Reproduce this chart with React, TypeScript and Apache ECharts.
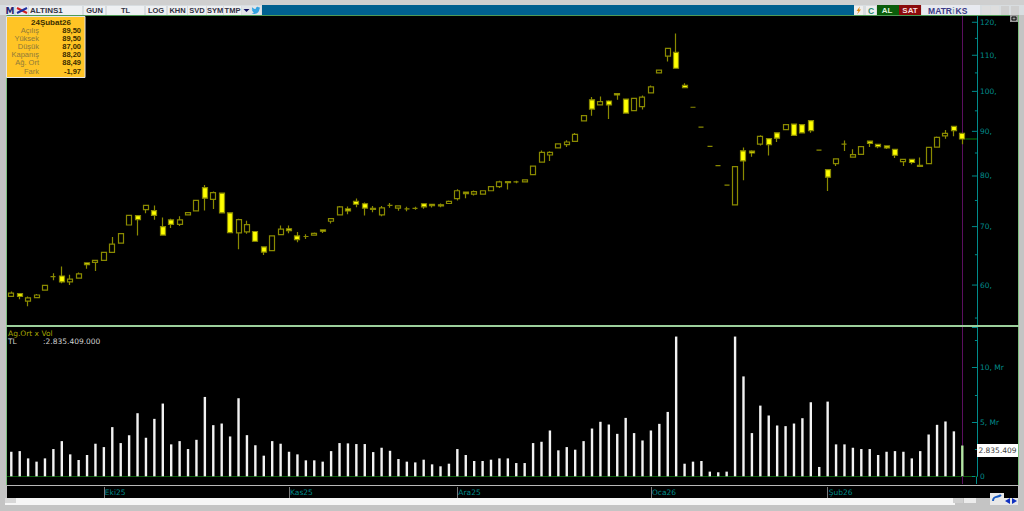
import React, { useEffect, useRef } from "react";
import * as echarts from "echarts";

// [open, close, low, high]
const candles: number[][] = [
  [58.25,58.75,58.2,59.0],[58.65,58.25,57.8,58.65],[57.5,58.0,56.75,58.2],[58.05,58.45,58.0,58.6],
  [59.2,59.95,59.15,60],[61.35,61.35,60.75,61.9],[61.45,60.5,60.3,63.0],[60.5,60.95,60,61.65],
  [61.1,61.8,61,62],[63.6,63.3,62.65,63.65],[63.7,64.05,62.25,64.1],[64.05,65.4,64.05,65.4],
  [65.4,66.85,65.4,68.1],[67,68.7,67,68.7],[70.3,72.1,70.3,72.1],[72.05,71.3,68.4,72.1],
  [73.2,74.05,72.5,74.05],[73,72.1,71.3,74],[70,68.45,68.45,71.7],[71.25,70.4,69.75,71.45],
  [70.4,71.25,70.1,71.95],[72.2,72.65,72.15,72.75],[72.95,75,72.95,75],[77.6,75.45,73.05,78.1],
  [75.2,76.55,73.35,76.8],[76.45,72.6,72.6,76.45],[72.6,68.9,68.9,72.6],[68.85,71.3,65.95,71.45],
  [69.05,70.35,68.7,71.1],[69.1,67.35,67.25,69.2],[66.35,65.45,64.95,66.35],[65.7,68.3,65.7,68.3],
  [68.55,69.55,68.5,70.2],[69.6,69.25,68.8,70.2],[68.3,67.65,67.15,69],[68.2,68.2,67.75,68.6],
  [68.45,68.75,68.4,68.9],[69.4,69.15,68.85,69.4],[71,71.5,70.6,71.6],[72.2,73.75,72.2,73.9],
  [73.35,72.95,72.3,73.8],[74.8,74.25,73.65,75.4],[74.35,73.5,72.1,74.6],[73.45,73.25,72.7,73.9],
  [72.2,73.55,71.95,73.9],[74.05,74.05,73.55,74.5],[73.5,73.95,73,74],[73.35,73.35,72.9,73.75],
  [73.45,73.45,73.2,73.75],[74.35,73.75,73.4,74.45],[74.25,74,73.6,74.3],[74.15,73.95,73.65,74.4],
  [74.4,74.8,74.3,75],[75.35,76.95,75,77.25],[76.65,76.35,75.45,76.7],[76.25,76.75,76,77],
  [76.25,76.95,76.25,76.95],[76.95,77.8,76.95,77.8],[77.8,78.75,77.5,79],[78.85,78.6,77.2,78.9],
  [78.75,78.75,78.5,79],[78.75,79.2,78.75,79.25],[80.3,82.1,80.3,82.1],[83,85.15,83,85.55],
  [84.55,85.15,83.25,85.4],[86.15,87.05,86.15,87.2],[86.9,87.5,86.35,87.9],[87.65,89.3,87.65,89.6],
  [92.5,93.8,92.5,93.8],[97.8,95.45,93.8,98.5],[96.5,97.35,96.4,98.65],[97.5,96.5,92.95,97.7],
  [99.45,99.1,97.85,99.5],[98,94.45,94.45,98.1],[95.05,98.15,95.05,98.15],[96.05,98.5,95.35,98.9],
  [99.6,101.2,99.6,101.55],[105,105.75,104.8,105.8],[109.75,112,108.2,112],[110.85,106.3,106.3,116.5],
  [101.6,101,101,102.2],[95.9,95.9,95.9,95.9],[91,91,91,91],[86.5,86.5,86.5,86.5],
  [82.2,82.2,82.2,82.2],[78.1,78.1,78.1,78.1],[74.15,82,74.15,82],[85.5,83.25,79.1,86.25],
  [85.4,85,84.15,85.6],[87,88.8,86.7,89.1],[88.3,86.9,84.45,88.35],[89.65,88.4,87.5,89.75],
  [90.4,91.6,90.4,91.6],[91.75,89.05,89.05,91.75],[91.6,89.65,89.65,91.6],[92.6,90.15,89.65,92.6],
  [85.65,85.65,85.65,85.65],[81.35,79.75,76.9,81.4],[82.65,83.7,82.15,83.7],[87,87,85.45,87.85],
  [84.1,84.65,84.05,85.85],[84.7,86.45,84.7,86.45],[87.7,87.2,86.35,87.75],[86.95,86.45,86.05,87],
  [86.6,86.15,85.9,86.75],[85.85,84.5,83.9,85.9],[83.1,83.6,82.15,83.65],[83.6,82.9,82.5,83.65],
  [82.05,82.3,82.05,84],[82.65,86.25,82.65,86.25],[86.35,88.6,86.35,88.8],[88.95,89.5,88.25,90.3],
  [91.2,90.17,88.85,91.25],[89.5,88.2,87,89.5],
];

const volumes: number[] = [
  2.26,2.32,1.65,1.35,1.65,2.51,3.24,2.02,1.5,1.96,3.0,2.69,4.53,3.06,3.79,5.81,3.55,5.29,6.7,2.94,
  3.24,2.51,3.36,7.31,4.71,4.86,3.67,7.19,3.79,2.87,1.9,3.24,3.0,2.26,2.02,1.47,1.47,1.35,2.32,3.06,
  3.03,2.97,2.97,2.23,2.63,2.35,1.59,1.35,1.28,1.53,1.1,0.92,1.16,2.51,1.96,1.41,1.41,1.53,1.65,1.65,
  1.22,1.22,3.06,3.18,4.22,2.39,2.69,2.45,3.24,4.4,5.02,4.77,3.91,5.38,3.98,3.3,4.22,4.83,5.93,12.87,
  1.16,1.35,1.41,0.43,0.37,0.43,12.87,9.2,3.98,6.51,5.6,4.68,4.62,4.86,5.35,6.82,0.86,6.88,2.94,2.94,
  2.63,2.51,2.51,1.96,2.26,2.32,2.26,1.65,2.32,3.85,4.74,5.05,4.14,2.835,
];

const categories: string[] = Array.from({ length: 115 }, (_, i) => String(i));
const monthIndexes = [11, 33, 53, 76, 97];
const monthLabels = ["Eki25", "Kas25", "Ara25", "Oca26", "Şub26"];
const priceMajor = [60, 70, 80, 90, 100, 110, 120];
const priceMinor = [55, 65, 75, 85, 95, 105, 115];
const infoTitle = "24Şubat26";
const infoLabels = ["Açılış", "Yüksek", "Düşük", "Kapanış", "Ağ. Ort", "Fark"];
const infoValues = ["89,50", "89,50", "87,00", "88,20", "88,49", "-1,97"];
const toolbarButtons: [string, number, number][] = [
  ["GUN", 84, 105], ["TL", 107, 144], ["LOG", 146, 166], ["KHN", 168, 187],
  ["SVD", 188, 206], ["SYM", 207, 223], ["TMP", 224, 241],
];

const FONT = "'DejaVu Sans', sans-serif";
const FONT2 = "'Liberation Sans', sans-serif";
const TEAL = "#008b8b";
const BIRD =
  "M23.95 4.57a10 10 0 0 1-2.82.77 4.96 4.96 0 0 0 2.16-2.72c-.95.55-2 .96-3.13 1.19a4.92 4.92 0 0 0-8.38 4.48C7.69 8.1 4.07 6.13 1.64 3.16a4.82 4.82 0 0 0-.67 2.48c0 1.71.87 3.21 2.19 4.1a4.9 4.9 0 0 1-2.23-.62v.06a4.92 4.92 0 0 0 3.95 4.83 5 5 0 0 1-2.21.08 4.94 4.94 0 0 0 4.6 3.42A9.87 9.87 0 0 1 0 19.54a13.94 13.94 0 0 0 7.55 2.21c9.05 0 14-7.5 14-13.98 0-.21 0-.42-.02-.63a9.94 9.94 0 0 0 2.42-2.57z";

const rect = (x: number, y: number, w: number, h: number, fill: string, z = 20, stroke?: string) => ({
  type: "rect", z, shape: { x, y, width: w, height: h }, style: { fill, stroke, lineWidth: stroke ? 1 : 0 }, silent: true,
});
const text = (t: string, x: number, y: number, fill: string, size = 8, align = "left", weight = "normal", font = FONT) => ({
  type: "text", z: 22, x, y, silent: true,
  style: { text: t, fill, fontSize: size, fontFamily: font, align, verticalAlign: "middle", fontWeight: weight },
});
const line = (x1: number, y1: number, x2: number, y2: number, stroke: string, w = 1, z = 20) => ({
  type: "line", z, shape: { x1, y1, x2, y2 }, style: { stroke, lineWidth: w }, silent: true,
});

function chrome(): any[] {
  const els: any[] = [
    rect(7, 16, 1011, 482, "#000000", -1),
    // outer frame
    rect(0, 0, 1024, 5, "#cfcfcf"),
    rect(0, 5, 262, 10, "#d8dde0"),
    rect(854, 5, 170, 10, "#d8dde0"),
    rect(262, 5, 592, 10, "#00608f"),
    rect(0, 15, 6, 496, "#c4c4c4"),
    rect(1019, 15, 5, 496, "#c4c4c4"),
    rect(6, 15, 1013, 1, "#4f9a55"),
    rect(6, 15, 1, 470, "#7fc080"),
    rect(1018, 15, 1, 470, "#7fc080"),
    rect(6, 325, 1013, 2, "#9ccf9c"),
    rect(6, 485, 1013, 1, "#b8b8b8"),
    rect(5, 498, 950, 7, "#f6f6f6"),
    rect(5, 498, 11, 5, "#d8d8d8", 21),
    rect(953, 498, 10, 5, "#d0d0d0", 21),
    rect(964, 498, 12, 5, "#ececec", 21),
    rect(0, 505, 1024, 6, "#c4c4c4"),
    // toolbar left
    rect(6, 6, 8, 9, "#e8e8f0"),
    text("M", 10, 10.5, "#27276f", 9, "center", "bold"),
    rect(16, 6, 12, 9, "#e8e8f0"),
    line(17, 8, 27, 13, "#d02020", 2, 21),
    line(17, 13, 27, 8, "#2030a0", 2, 21),
    rect(29, 6, 53, 9, "#eef0f2"),
    text("ALTINS1", 30, 10.5, "#333344", 8, "left", "bold", FONT2),
    rect(242, 6, 9, 9, "#e0e4e8"),
    { type: "polygon", z: 22, silent: true, shape: { points: [[243.5, 9], [249.5, 9], [246.5, 12]] }, style: { fill: "#101060" } },
    rect(251, 6, 10, 9, "#e0e4e8"),
    { type: "bird", z: 22, x: 251.5, y: 6, scaleX: 0.37, scaleY: 0.37, silent: true, style: { fill: "#34a3e0" } },
    // toolbar right
    rect(854, 6, 9, 9, "#eeeeee"),
    { type: "polygon", z: 22, silent: true, shape: { points: [[860, 6.5], [856.5, 11], [858.5, 11], [857, 14.5], [861, 9.5], [859, 9.5]] }, style: { fill: "#e08a10" } },
    rect(866, 6, 10, 9, "#eeeeee"),
    text("C", 871, 10.5, "#1f8a70", 8.5, "center", "bold", FONT2),
    rect(877, 5, 22, 10, "#0a5c0a"),
    text("AL", 887, 10.5, "#dff0df", 8, "center", "bold", FONT2),
    rect(899, 5, 22, 10, "#8a0a0a"),
    text("SAT", 910, 10.5, "#f6dede", 8, "center", "bold", FONT2),
    rect(922, 5, 58, 10, "#e8eaf0"),
    text("MATR", 952, 10.5, "#3a3a86", 8.5, "right", "bold", FONT2),
    text("i", 953.5, 10.5, "#7a9ab0", 8.5, "center", "bold", FONT2),
    text("KS", 955.5, 10.5, "#3a3a86", 8.5, "left", "bold", FONT2),
    rect(982, 6, 8, 9, "#dedede"), rect(991, 6, 8, 9, "#dedede"),
    rect(1001, 6, 8, 9, "#cfcfcf"), rect(1011, 6, 8, 9, "#cfcfcf"),
    rect(1010, 15, 8, 7, "#9a9a9a"),
    rect(1012, 17, 4, 3, "#9a9a9a", 21, "#000000"),
    // info panel
    rect(6.5, 16.5, 78.5, 61, "#ffc425", 20, "#e6e6e6"),
    text(infoTitle, 51, 22.5, "#3a2d00", 8, "center", "bold", FONT2),
    // volume legend
    text("Ag.Ort x Vol", 8, 333, "#a8a800", 7.5),
    text("TL", 8, 341, "#d0d0d0", 7.5),
    text(":2.835.409.000", 43, 341, "#d0d0d0", 7.5),
    // last value flag
    rect(977, 444, 41, 13, "#ffffff"),
    text("2.835.409", 997.5, 450.5, "#404040", 7.5, "center"),
    // axis extensions
    line(962.5, 476, 962.5, 484, "#5a0f5f"),
    line(976.5, 476, 976.5, 484, TEAL),
    line(975, 476.5, 977, 476.5, "#0a5c0a"),
    // bottom right buttons
    rect(990, 493, 14, 12, "#e8e8e8"),
    { type: "bezierCurve", z: 22, silent: true, shape: { x1: 993, y1: 501, x2: 1001, y2: 495, cpx1: 993, cpy1: 495, cpx2: 998, cpy2: 498 }, style: { stroke: "#1a5ac0", lineWidth: 2, fill: "none" } },
    rect(1004, 498, 14, 7, "#e8e8e8"),
    { type: "polygon", z: 22, silent: true, shape: { points: [[1005, 501], [1010, 498], [1010, 504]] }, style: { fill: "#1030c0" } },
    { type: "polygon", z: 22, silent: true, shape: { points: [[1017, 501], [1012, 498], [1012, 504]] }, style: { fill: "#1030c0" } },
  ];
  toolbarButtons.forEach(([label, a, b]) => {
    els.push(rect(a, 6, b - a, 9, "#eef0f2"));
    els.push(text(label, (a + b) / 2, 10.5, "#333344", 7.5, "center", "bold", FONT2));
  });
  infoLabels.forEach((l, i) => {
    const y = 30.7 + i * 8.07;
    els.push(text(l, 39, y, "#8f7a3a", 7.5, "right", "normal", FONT2));
    els.push(text(infoValues[i], 81, y, "#3a2d00", 7.5, "right", "bold", FONT2));
  });
  return els;
}

export default function App() {
  const ref = useRef<HTMLDivElement>(null);
  useEffect(() => {
    document.body.style.margin = "0";
    document.body.style.background = "#c4c4c4";
    echarts.graphic.registerShape("bird", echarts.graphic.extendPath(BIRD, {}));
    const chart = echarts.init(ref.current!, undefined, { renderer: "svg" });
    const left = 7.09;
    const width = 8.416 * categories.length;
    const lastClose = candles[candles.length - 1][1];
    const lastIndex = candles.length - 1;
    const priceTickData = [
      ...priceMajor.map((v) => [0, v, 1]),
      ...priceMinor.map((v) => [0, v, 0]),
    ];
    chart.setOption({
      animation: false,
      backgroundColor: "#c4c4c4",
      grid: [
        { left, width, top: 16, height: 309 },
        { left, width, top: 327, height: 149.3 },
        { left, width, top: 487, height: 11 },
      ],
      xAxis: [
        { gridIndex: 0, type: "category", data: categories, axisLine: { show: false }, axisTick: { show: false }, axisLabel: { show: false } },
        { gridIndex: 1, type: "category", data: categories, axisLine: { lineStyle: { color: "#0a5c0a", width: 1 } }, axisTick: { show: false }, axisLabel: { show: false } },
        {
          gridIndex: 2, type: "category", data: categories,
          axisLine: { show: false },
          axisTick: {
            show: true, inside: true, length: 11, alignWithLabel: true,
            interval: (i: number) => monthIndexes.includes(i),
            lineStyle: { color: "#7a7a7a" },
          },
          axisLabel: {
            show: true, inside: true, margin: 2, align: "left", verticalAlign: "bottom", padding: [0, 0, 0, 1],
            interval: (i: number) => monthIndexes.includes(i),
            formatter: (_: string, i: number) => monthLabels[monthIndexes.indexOf(i)] ?? "",
            color: TEAL, fontSize: 7.5, fontFamily: FONT,
          },
        },
      ],
      yAxis: [
        {
          gridIndex: 0, type: "log", min: 54, max: 122, position: "right", offset: 2,
          axisLine: { show: true, lineStyle: { color: TEAL } },
          axisTick: { show: false }, axisLabel: { show: false }, splitLine: { show: false }, minorTick: { show: false },
        },
        {
          gridIndex: 1, type: "value", min: 0, max: 13.75, interval: 5, position: "right", offset: 2,
          axisLine: { show: true, onZero: false, lineStyle: { color: TEAL } },
          axisTick: { show: true, inside: true, length: 5, lineStyle: { color: TEAL } },
          minorTick: { show: true, splitNumber: 2, length: 2, lineStyle: { color: TEAL } },
          axisLabel: {
            show: true, margin: 3, color: TEAL, fontSize: 7.5, fontFamily: FONT,
            formatter: (v: number) => (v === 0 ? "0" : v % 5 === 0 ? v + ", Mr" : ""),
          },
          splitLine: { show: false },
        },
        { gridIndex: 2, type: "value", show: false, min: 0, max: 1 },
      ],
      series: [
        {
          type: "candlestick", xAxisIndex: 0, yAxisIndex: 0, barWidth: 5.5, z: 3,
          data: candles,
          itemStyle: {
            color: "#000000", color0: "#ffff00",
            borderColor: "#8a8a00", borderColor0: "#8a8a00", borderColorDoji: "#8a8a00", borderWidth: 1.2,
          },
          markLine: {
            silent: true, symbol: "none", label: { show: false }, z: 1,
            lineStyle: { color: "#5a0f5f", type: "solid", width: 1 },
            data: [{ xAxis: String(lastIndex) }],
          },
        },
        {
          type: "custom", xAxisIndex: 0, yAxisIndex: 0, silent: true, z: 4,
          data: priceTickData,
          encode: { x: 0, y: 1 },
          renderItem: (params: any, api: any) => {
            const cs = params.coordSys;
            const ax = cs.x + cs.width + 2;
            const y = api.coord([0, api.value(1)])[1];
            const major = api.value(2) === 1;
            const kids: any[] = [{
              type: "line",
              shape: { x1: ax - (major ? 5 : 2), y1: y, x2: ax, y2: y },
              style: { stroke: TEAL, lineWidth: 1 },
            }];
            if (major) {
              kids.push({
                type: "text",
                style: { x: ax + 3, y, text: api.value(1) + ",", fill: TEAL, fontSize: 7.5, fontFamily: FONT, verticalAlign: "middle", align: "left" },
              });
            }
            return { type: "group", children: kids };
          },
        },
        {
          type: "custom", xAxisIndex: 0, yAxisIndex: 0, silent: true, z: 4,
          data: [[lastIndex, lastClose]],
          encode: { x: 0, y: 1 },
          renderItem: (params: any, api: any) => {
            const cs = params.coordSys;
            const p = api.coord([api.value(0), api.value(1)]);
            return {
              type: "line",
              shape: { x1: p[0] + 3, y1: p[1], x2: cs.x + cs.width + 2, y2: p[1] },
              style: { stroke: "#0a7a0a", lineWidth: 1 },
            };
          },
        },
        {
          type: "bar", xAxisIndex: 1, yAxisIndex: 1, barWidth: 2.4, z: 3,
          data: volumes.map((v, i) => ({
            value: v,
            itemStyle: { color: i === lastIndex ? "#b4e6a4" : "#f2f2f2" },
          })),
          markLine: {
            silent: true, symbol: "none", label: { show: false }, z: 1,
            lineStyle: { color: "#5a0f5f", type: "solid", width: 1 },
            data: [{ xAxis: String(lastIndex) }],
          },
        },
      ],
      graphic: { elements: chrome() },
    });
    return () => chart.dispose();
  }, []);
  return <div ref={ref} style={{ width: 1024, height: 511 }} />;
}
